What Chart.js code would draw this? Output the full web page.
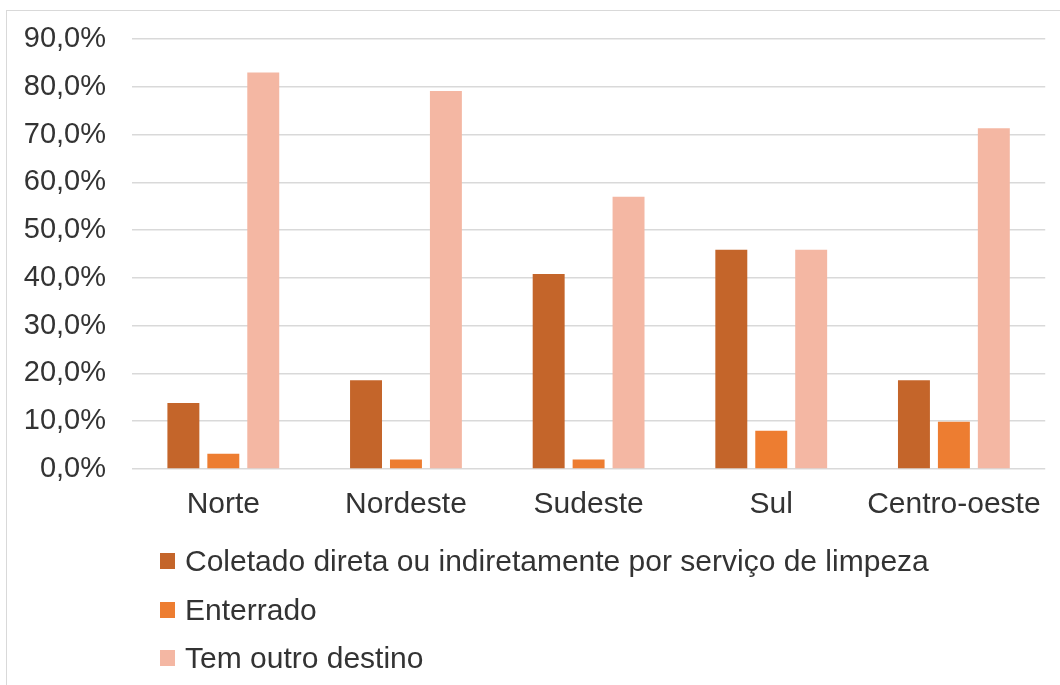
<!DOCTYPE html>
<html>
<head>
<meta charset="utf-8">
<script src="https://cdn.jsdelivr.net/npm/chart.js@4/dist/chart.umd.min.js"></script>
<style>
  html, body { margin: 0; padding: 0; background: #fff; }
  #wrap { position: relative; width: 1060px; height: 685px; overflow: hidden; }
  #frame { position: absolute; left: 6px; top: 10px; width: 1100px; height: 700px; border: 1px solid #d9d9d9; box-sizing: border-box; }
  #c { position: absolute; left: 0; top: 0; }
  #legend { position: absolute; left: 160px; top: 537px; margin: 0; padding: 0; list-style: none;
            font-family: "Liberation Sans", Arial, sans-serif; font-size: 30px; color: #333333; }
  #legend li { height: 48.5px; line-height: 48px; display: flex; align-items: center; white-space: nowrap; }
  #legend .box { display: inline-block; width: 15px; height: 16px; margin-right: 10px; }
</style>
</head>
<body>
<div id="wrap">
  <div id="frame"></div>
  <canvas id="c" width="1060" height="685"></canvas>
  <ul id="legend"></ul>
</div>
<script>
const categories = ['Norte', 'Nordeste', 'Sudeste', 'Sul', 'Centro-oeste'];
const seriesNames = ['Coletado direta ou indiretamente por serviço de limpeza', 'Enterrado', 'Tem outro destino'];
const coletado = [13.8, 18.6, 40.8, 45.9, 18.6];
const enterrado = [3.2, 2.0, 2.0, 8.0, 9.9];
const outroDestino = [83.0, 79.1, 57.0, 45.9, 71.3];
const yTicks = [0, 10, 20, 30, 40, 50, 60, 70, 80, 90];

const colors = ['#C4652A', '#ED7D31', '#F4B7A3'];
const FONT = '"Liberation Sans", Arial, sans-serif';
const TXT = '#333333';

const htmlLegend = {
  id: 'htmlLegend',
  afterUpdate(chart) {
    const ul = document.getElementById('legend');
    ul.innerHTML = '';
    const items = chart.options.plugins.legend.labels.generateLabels(chart);
    items.forEach(it => {
      const li = document.createElement('li');
      const box = document.createElement('span');
      box.className = 'box';
      box.style.background = it.fillStyle;
      const t = document.createElement('span');
      t.textContent = it.text;
      li.appendChild(box); li.appendChild(t);
      ul.appendChild(li);
    });
  }
};

new Chart(document.getElementById('c'), {
  type: 'bar',
  data: {
    labels: categories,
    datasets: [
      { label: seriesNames[0], data: coletado, backgroundColor: colors[0] },
      { label: seriesNames[1], data: enterrado, backgroundColor: colors[1] },
      { label: seriesNames[2], data: outroDestino, backgroundColor: colors[2] }
    ]
  },
  options: {
    responsive: false,
    animation: false,
    devicePixelRatio: 1,
    layout: { padding: { left: 0, right: 14, top: 39, bottom: 144 } },
    datasets: { bar: { categoryPercentage: 0.656, barPercentage: 0.8 } },
    plugins: {
      legend: { display: false },
      tooltip: { enabled: false }
    },
    scales: {
      x: {
        grid: { display: false, drawTicks: false },
        border: { display: false },
        ticks: { color: TXT, font: { family: FONT, size: 30 }, padding: 18 }
      },
      y: {
        min: 0, max: 90,
        afterBuildTicks(axis) { axis.ticks = yTicks.map(v => ({ value: v })); },
        afterFit(axis) { axis.width = 132; },
        grid: { color: '#d9d9d9', lineWidth: 1.5, drawTicks: false },
        border: { display: false },
        ticks: {
          color: TXT, font: { family: FONT, size: 29, lineHeight: 0.8 }, padding: 26,
          callback: v => v.toFixed(1).replace('.', ',') + '%'
        }
      }
    }
  },
  plugins: [htmlLegend]
});
</script>
</body>
</html>
